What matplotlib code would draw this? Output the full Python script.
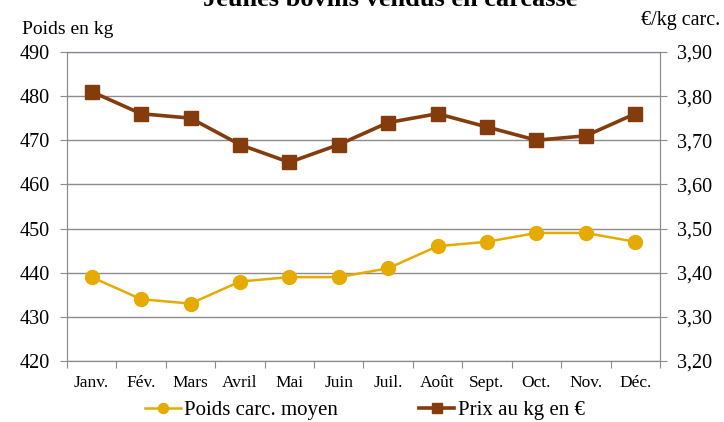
import matplotlib
matplotlib.use('Agg')
import matplotlib.pyplot as plt
import numpy as np

plt.rcParams['font.family'] = ['Liberation Serif', 'DejaVu Serif']

months = ['Janv.', 'Fév.', 'Mars', 'Avril', 'Mai', 'Juin', 'Juil.', 'Août',
          'Sept.', 'Oct.', 'Nov.', 'Déc.']
poids = [439, 434, 433, 438, 439, 439, 441, 446, 447, 449, 449, 447]
prix = [3.81, 3.76, 3.75, 3.69, 3.65, 3.69, 3.74, 3.76, 3.73, 3.70, 3.71, 3.76]
left_ticks = [420, 430, 440, 450, 460, 470, 480, 490]
right_ticks = [3.20, 3.30, 3.40, 3.50, 3.60, 3.70, 3.80, 3.90]

c_poids = '#E5AB00'
c_prix = '#843C0C'
grid_c = '#8C8C8C'

fig = plt.figure(figsize=(7.24, 4.22), dpi=100)
ax = fig.add_axes([0.0925, 0.1445, 0.819, 0.7325])
ax2 = ax.twinx()
ax2.set_facecolor('#FFFFCC')
ax.set_zorder(ax2.get_zorder() + 1)
ax.patch.set_visible(False)
x = np.arange(len(months))

ax.set_ylim(420, 490)
ax2.set_ylim(3.20, 3.90)

for v in left_ticks:
    ax.axhline(v, color=grid_c, lw=1.0, zorder=0)

l1, = ax.plot(x, poids, '-o', color=c_poids, lw=1.8, ms=10, zorder=3)
# prix drawn on the left axes (same scale: 420 kg <-> 3,20 €) so it sits above the grid
l2, = ax.plot(x, [420 + (p - 3.20) * 100 for p in prix], '-s', color=c_prix,
              lw=2.6, ms=9.5, zorder=3)

ax.set_xlim(-0.5, 11.5)
ax.set_yticks(left_ticks)
ax.set_yticklabels([str(v) for v in left_ticks], fontsize=14.5)
ax2.set_yticks(right_ticks)
ax2.set_yticklabels([('%.2f' % v).replace('.', ',') for v in right_ticks], fontsize=14.5)

ax.set_xticks(np.arange(-0.5, 12, 1))
ax.set_xticklabels([])
ax.set_xticks(x, minor=True)
ax.set_xticklabels(months, minor=True, fontsize=12.5)
ax.tick_params(axis='x', which='minor', length=0, pad=10)
ax.tick_params(axis='x', which='major', length=5, color=grid_c)
ax.tick_params(axis='y', length=5, color=grid_c, pad=7.5)
ax2.tick_params(axis='y', length=5, color=grid_c, pad=7)

for a in (ax, ax2):
    for s in a.spines.values():
        s.set_color(grid_c)
    a.spines['top'].set_color('#8C7F9A')

fig.text(0.539, 0.986, 'Jeunes bovins vendus en carcasse', ha='center', va='baseline',
         fontsize=19, fontweight='bold')
fig.text(0.03, 1 - 34 / 422, 'Poids en kg', ha='left', va='baseline', fontsize=14)
fig.text(0.995, 1 - 25 / 422, '€/kg carc.', ha='right', va='baseline', fontsize=14.5)

fig.legend([l1, l2], ['Poids carc. moyen', 'Prix au kg en €'],
           loc='center', bbox_to_anchor=(0.504, 0.028), ncol=2,
           frameon=False, fontsize=15, handlelength=1.7, handletextpad=0.15,
           columnspacing=3.9, markerscale=0.72)

fig.savefig('out.png', dpi=100)
